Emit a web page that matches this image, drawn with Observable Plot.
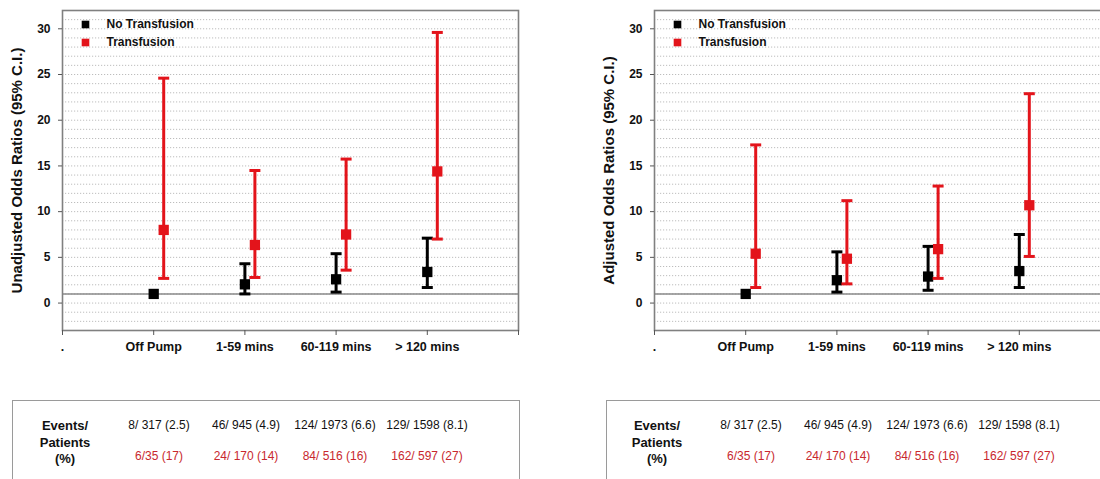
<!DOCTYPE html>
<html><head><meta charset="utf-8">
<script src="https://cdn.jsdelivr.net/npm/d3@7"></script>
<script src="https://cdn.jsdelivr.net/npm/@observablehq/plot@0.6"></script>
<style>
html,body{margin:0;padding:0;background:#fff;}
body{width:1100px;height:479px;overflow:hidden;position:relative;font-family:"Liberation Sans",Arial,sans-serif;}
.panel{position:absolute;top:0;width:600px;height:479px;}
.panel svg{position:absolute;left:0;top:0;}
.tbl{position:absolute;left:12px;top:400px;width:508px;height:120px;border:1.5px solid #9a9a9a;box-sizing:border-box;}
.t{position:absolute;transform:translate(-50%,-50%);white-space:nowrap;font-size:12px;color:#111;}
.lab{font-weight:bold;font-size:13px;}
.red{color:#c8282e;}
</style></head><body>
<script>
// ---- data ----
const categories = ["Off Pump", "1-59 mins", "60-119 mins", "> 120 mins"];
const xTickLabels = [".", "Off Pump", "1-59 mins", "60-119 mins", "> 120 mins", ""];
const seriesNames = ["No Transfusion", "Transfusion"];
const yTicks = [0, 5, 10, 15, 20, 25, 30];
const refOddsRatio = [1];

const unadjNoTxOR = [1.0, 2.05, 2.6, 3.4];
const unadjNoTxLo = [null, 1.0, 1.2, 1.7];
const unadjNoTxHi = [null, 4.3, 5.4, 7.1];
const unadjTxOR   = [8.0, 6.35, 7.5, 14.4];
const unadjTxLo   = [2.7, 2.8, 3.6, 7.0];
const unadjTxHi   = [24.6, 14.5, 15.75, 29.6];

const adjNoTxOR = [1.0, 2.5, 2.9, 3.5];
const adjNoTxLo = [null, 1.2, 1.4, 1.7];
const adjNoTxHi = [null, 5.6, 6.2, 7.5];
const adjTxOR   = [5.4, 4.85, 5.9, 10.7];
const adjTxLo   = [1.7, 2.1, 2.7, 5.1];
const adjTxHi   = [17.3, 11.2, 12.8, 22.9];

const tableRowLabel = ["Events/", "Patients", "(%)"];
const noTxCounts = ["8/ 317 (2.5)", "46/ 945 (4.9)", "124/ 1973 (6.6)", "129/ 1598 (8.1)"];
const txCounts   = ["6/35 (17)", "24/ 170 (14)", "84/ 516 (16)", "162/ 597 (27)"];

// ---- styling / layout ----
const BLACK = "#000000", RED = "#e3141b";
const tableColCenters = [159, 246, 335, 427];
const capSymbol = {draw(ctx, size){ const r = Math.sqrt(size/Math.PI); ctx.moveTo(-r,0); ctx.lineTo(r,0);} };

function rows(or, lo, hi){ return categories.map((c,i)=>({pos:i+1, cat:c, or:or[i], lo:lo[i], hi:hi[i]})); }

function seriesMarks(data, color, dx){
  const withCI = data.filter(d => d.lo != null);
  return [
    Plot.ruleX(withCI, {x:"pos", y1:"lo", y2:"hi", stroke:color, strokeWidth:3, dx}),
    Plot.dot(withCI, {x:"pos", y:"lo", symbol:capSymbol, r:5.5, fill:"none", stroke:color, strokeWidth:3, dx}),
    Plot.dot(withCI, {x:"pos", y:"hi", symbol:capSymbol, r:5.5, fill:"none", stroke:color, strokeWidth:3, dx}),
    Plot.dot(data, {x:"pos", y:"or", symbol:"square", r:5.8, fill:color, stroke:"none", dx})
  ];
}

function panel(left, yLabel, no, tx, boxLeft){
  const div = document.createElement("div");
  div.className = "panel";
  div.style.left = left + "px";
  document.body.appendChild(div);
  const chart = Plot.plot({
    width: 592, height: 365,
    marginLeft: 62, marginRight: 74, marginTop: 10, marginBottom: 35,
    x: {domain: [0, 5]},
    y: {domain: [-3, 32]},
    style: {fontFamily: '"Liberation Sans", Arial, sans-serif', fontSize: "12px", fontWeight: "bold", color: "#111", background: "transparent", overflow: "visible"},
    marks: [
      Plot.gridY(d3.range(-2, 32), {stroke:"#bdbdbd", strokeOpacity:1, strokeDasharray:"1.2,1.8", strokeWidth:1}),
      Plot.ruleY(refOddsRatio, {stroke:"#8a8a8a", strokeWidth:1.5}),
      Plot.frame({stroke:"#808080", strokeWidth:1.6}),
      Plot.axisY({ticks: yTicks, tickSize: 4, tickPadding: 8, label: null, stroke: "#555"}),
      Plot.axisX({ticks: d3.range(0, 6), tickFormat: i => xTickLabels[i], tickSize: 5, tickPadding: 7, label: null, fontSize: 12.5, stroke: "#555"}),
      ...seriesMarks(no, BLACK, 0),
      ...seriesMarks(tx, RED, 10),
      Plot.dot([seriesNames[0]], {frameAnchor:"top-left", dx:23, dy:14, symbol:"square", r:4.3, fill:BLACK}),
      Plot.text([seriesNames[0]], {frameAnchor:"top-left", dx:44, dy:14, text:d=>d, textAnchor:"start", lineAnchor:"middle", fontWeight:"bold", fontSize:12, fill:"#111"}),
      Plot.dot([seriesNames[1]], {frameAnchor:"top-left", dx:23, dy:32, symbol:"square", r:4.3, fill:RED}),
      Plot.text([seriesNames[1]], {frameAnchor:"top-left", dx:44, dy:32, text:d=>d, textAnchor:"start", lineAnchor:"middle", fontWeight:"bold", fontSize:12, fill:"#111"}),
      Plot.text([yLabel], {frameAnchor:"left", dx:-45, text:d=>d, rotate:-90, textAnchor:"middle", lineAnchor:"middle", fontWeight:"bold", fontSize:15, fill:"#111"})
    ]
  });
  div.appendChild(chart);

  const box = document.createElement("div");
  box.className = "tbl";
  box.style.left = boxLeft + "px";
  div.appendChild(box);
  const addText = (txt, x, y, cls) => {
    const s = document.createElement("div");
    s.className = "t " + (cls || "");
    s.textContent = txt;
    s.style.left = x + "px"; s.style.top = y + "px";
    div.appendChild(s);
  };
  const rowLabelY = [425, 442, 458];
  tableRowLabel.forEach((t, i) => addText(t, 65, rowLabelY[i], "lab"));
  noTxCounts.forEach((t, i) => addText(t, tableColCenters[i], 425, ""));
  txCounts.forEach((t, i) => addText(t, tableColCenters[i], 456, "red"));
}

panel(0, "Unadjusted Odds Ratios (95% C.I.)",
  rows(unadjNoTxOR, unadjNoTxLo, unadjNoTxHi), rows(unadjTxOR, unadjTxLo, unadjTxHi), 12);
panel(592, "Adjusted Odds Ratios (95% C.I.)",
  rows(adjNoTxOR, adjNoTxLo, adjNoTxHi), rows(adjTxOR, adjTxLo, adjTxHi), 14);
</script>
</body></html>
